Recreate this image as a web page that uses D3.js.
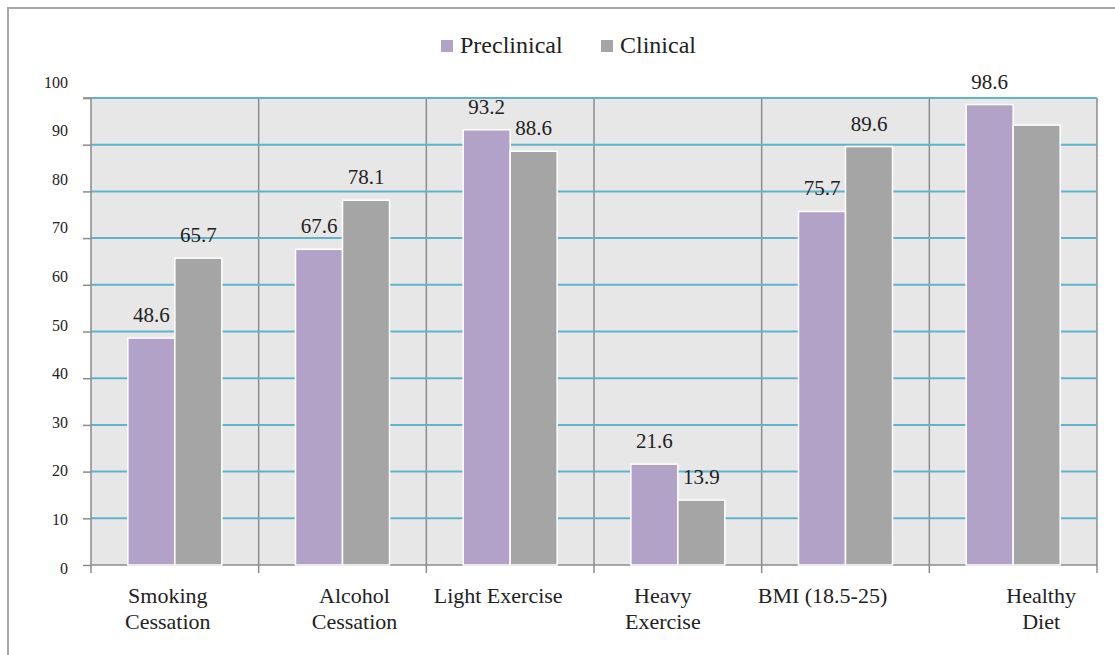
<!DOCTYPE html>
<html>
<head>
<meta charset="utf-8">
<script src="https://cdn.jsdelivr.net/npm/d3@7/dist/d3.min.js"></script>
<style>
  body { margin: 0; background: #fff; }
  svg { display: block; }
  svg text { font-family: "Liberation Serif", "Times New Roman", Times, "DejaVu Serif", serif; }
</style>
</head>
<body>
<svg id="chart" width="1115" height="655"></svg>
<script>
// Chart data.
var categories = ["Smoking Cessation", "Alcohol Cessation", "Light Exercise",
                  "Heavy Exercise", "BMI (18.5-25)", "Healthy Diet"];
var categoryLines = [["Smoking", "Cessation"], ["Alcohol", "Cessation"], ["Light Exercise"],
                     ["Heavy", "Exercise"], ["BMI (18.5-25)"], ["Healthy", "Diet"]];
var seriesNames = ["Preclinical", "Clinical"];
var preclinical = [48.6, 67.6, 93.2, 21.6, 75.7, 98.6];
var clinical = [65.7, 78.1, 88.6, 13.9, 89.6, 94.2];
var yTicks = [0, 10, 20, 30, 40, 50, 60, 70, 80, 90, 100];
// the reference shows no value over this one bar
var unlabeled = ["Healthy Diet|Clinical"];

// Layout.
var colors = {"Preclinical": "#b3a2c7", "Clinical": "#a5a5a5"};
var plot = {left: 91, right: 1097, top: 98, bottom: 565};
var labelNudge = [-7, 12, -12, -15, -23, 28];
var serif = "'Liberation Serif', 'Times New Roman', Times, 'DejaVu Serif', serif";

var svg = d3.select("#chart").attr("font-family", serif);

// Outer frame (top and left edges only are visible).
svg.append("path")
   .attr("d", "M8,655 L8,8 L1115,8")
   .attr("fill", "none")
   .attr("stroke", "#a6a6a6")
   .attr("stroke-width", 2);

var x0 = d3.scaleBand().domain(categories).range([plot.left, plot.right]);
var bw = 47;
var x1 = d3.scaleBand().domain(seriesNames)
           .range([x0.bandwidth() / 2 - bw, x0.bandwidth() / 2 + bw]);
var y = d3.scaleLinear().domain([0, 100]).range([plot.bottom, plot.top]);
// tick labels in the picture sit on a slightly taller scale than the gridlines
var yText = d3.scaleLinear().domain([0, 100]).range([568, 82]);

// Plot background.
svg.append("rect")
   .attr("x", plot.left).attr("y", plot.top)
   .attr("width", plot.right - plot.left).attr("height", plot.bottom - plot.top)
   .attr("fill", "#e7e7e7");

// Vertical category separators.
var bounds = categories.map(function(c) { return x0(c); }).concat([plot.right]);
svg.selectAll("line.sep").data(bounds.slice(1))
   .enter().append("line")
   .attr("class", "sep")
   .attr("x1", function(d) { return d; }).attr("x2", function(d) { return d; })
   .attr("y1", plot.top).attr("y2", plot.bottom + 8)
   .attr("stroke", "#8c8c8c").attr("stroke-width", 1.5);

// Horizontal gridlines.
svg.selectAll("line.grid").data(yTicks.slice(1))
   .enter().append("line")
   .attr("class", "grid")
   .attr("x1", plot.left).attr("x2", plot.right)
   .attr("y1", function(d) { return y(d); }).attr("y2", function(d) { return y(d); })
   .attr("stroke", "#5fb4cb").attr("stroke-width", 2);

// Left axis: ticks on the real scale, labels on the text scale.
svg.append("g")
   .attr("transform", "translate(" + plot.left + ",0)")
   .call(d3.axisLeft(y).tickValues(yTicks).tickSize(8).tickFormat(""))
   .call(function(g) {
     g.selectAll("line").attr("stroke", "#8c8c8c").attr("stroke-width", 1.5);
     g.select(".domain").attr("stroke", "#8c8c8c").attr("stroke-width", 1.5)
      .attr("d", "M-8," + plot.top + "H0V" + (plot.bottom + 8));
   });

svg.append("g")
   .attr("transform", "translate(68,0)")
   .call(d3.axisLeft(yText).tickValues(yTicks).tickSize(0).tickPadding(0))
   .call(function(g) {
     g.attr("font-family", serif).attr("font-size", 16);
     g.select(".domain").remove();
     g.selectAll("text").attr("fill", "#222");
   });

// Bottom axis line.
svg.append("line")
   .attr("x1", plot.left).attr("x2", plot.right)
   .attr("y1", plot.bottom).attr("y2", plot.bottom)
   .attr("stroke", "#8c8c8c").attr("stroke-width", 1.5);

// Bars.
var rows = [];
categories.forEach(function(c, i) {
  rows.push({cat: c, series: "Preclinical", value: preclinical[i]});
  rows.push({cat: c, series: "Clinical", value: clinical[i]});
});

svg.selectAll("rect.bar").data(rows)
   .enter().append("rect")
   .attr("class", "bar")
   .attr("x", function(d) { return x0(d.cat) + x1(d.series); })
   .attr("y", function(d) { return y(d.value); })
   .attr("width", x1.bandwidth())
   .attr("height", function(d) { return y(0) - y(d.value); })
   .attr("fill", function(d) { return colors[d.series]; })
   .attr("stroke", "#fff").attr("stroke-width", 1.5);

// Value labels.
svg.selectAll("text.val")
   .data(rows.filter(function(d) { return unlabeled.indexOf(d.cat + "|" + d.series) < 0; }))
   .enter().append("text")
   .attr("class", "val")
   .attr("x", function(d) { return x0(d.cat) + x1(d.series) + x1.bandwidth() / 2; })
   .attr("y", function(d) { return y(d.value) - 16; })
   .attr("text-anchor", "middle")
   .attr("font-size", 21).attr("fill", "#222")
   .text(function(d) { return d.value.toFixed(1); });

// Category labels.
categories.forEach(function(c, i) {
  var t = svg.append("text")
     .attr("text-anchor", "middle")
     .attr("font-size", 22).attr("fill", "#222");
  categoryLines[i].forEach(function(line, j) {
    t.append("tspan")
     .attr("x", x0(c) + x0.bandwidth() / 2 + labelNudge[i])
     .attr("y", 603 + j * 26)
     .text(line);
  });
});

// Legend.
var legend = svg.append("g").attr("transform", "translate(441,40)");
var item = legend.selectAll("g").data(seriesNames)
   .enter().append("g")
   .attr("transform", function(d, i) { return "translate(" + (i * 160) + ",0)"; });
item.append("rect")
   .attr("width", 12).attr("height", 12)
   .attr("fill", function(d) { return colors[d]; });
item.append("text")
   .attr("x", 19).attr("y", 13)
   .attr("font-size", 24).attr("fill", "#222")
   .text(function(d) { return d; });
</script>
</body>
</html>
